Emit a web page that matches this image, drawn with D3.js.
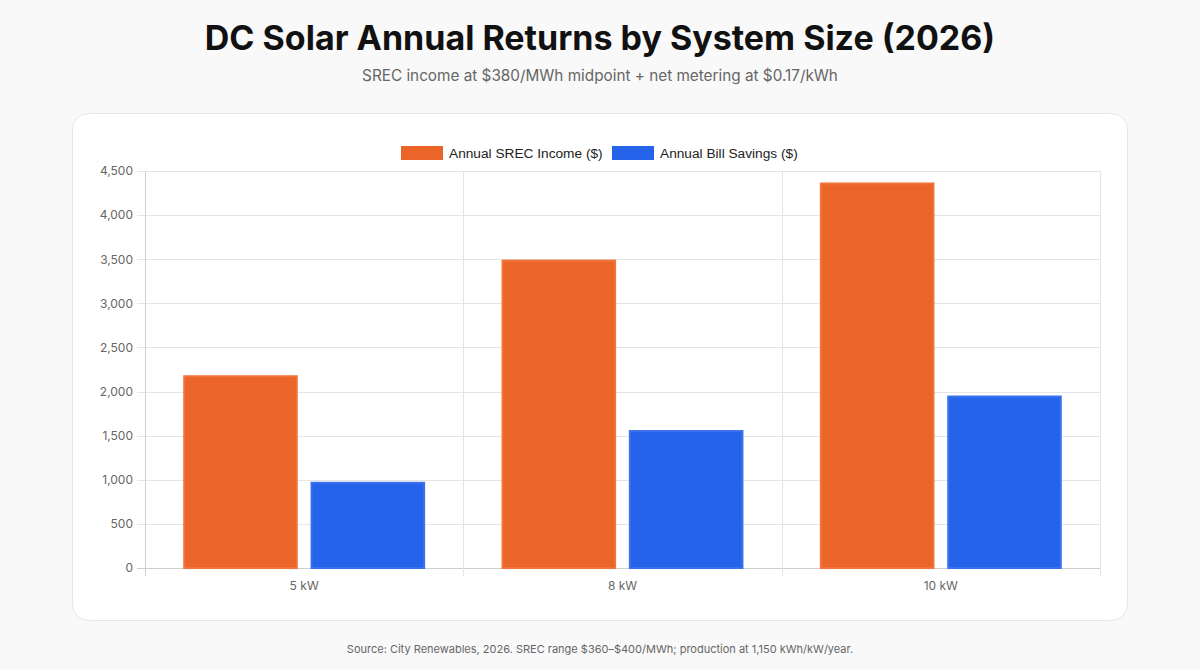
<!DOCTYPE html>
<html>
<head>
<meta charset="utf-8">
<script src="https://cdn.jsdelivr.net/npm/d3@7"></script>
<style>
  body { margin: 0; background: #f9f9f9; font-family: Inter, "Helvetica Neue", Arial, sans-serif; }
  svg { display: block; }
</style>
</head>
<body>
<script>
// Chart data
var categories = ["5 kW", "8 kW", "10 kW"];
var seriesNames = ["Annual SREC Income ($)", "Annual Bill Savings ($)"];
var srecIncome = [2185, 3496, 4370];
var billSavings = [977.5, 1564, 1955];
var yTicks = [0, 500, 1000, 1500, 2000, 2500, 3000, 3500, 4000, 4500];

var colors = ["#eb6428", "#2563eb"];
var strokes = ["#f0743c", "#3a72ee"];

var width = 1200, height = 670;
var svg = d3.select("body").append("svg")
  .attr("width", width)
  .attr("height", height);

// Title block
svg.append("text")
  .attr("x", width / 2).attr("y", 50)
  .attr("text-anchor", "middle")
  .style("font-size", "34px").style("font-weight", 700)
  .style("fill", "#111")
  .text("DC Solar Annual Returns by System Size (2026)");

svg.append("text")
  .attr("x", width / 2).attr("y", 81)
  .attr("text-anchor", "middle")
  .style("font-size", "15.3px").style("fill", "#666")
  .text("SREC income at $380/MWh midpoint + net metering at $0.17/kWh");

// Card
svg.append("rect")
  .attr("x", 72.5).attr("y", 113.5)
  .attr("width", 1055).attr("height", 507)
  .attr("rx", 16)
  .attr("fill", "#fff")
  .attr("stroke", "#e6e6e6");

// Plot area
var plotLeft = 145, plotRight = 1100, plotTop = 171, plotBottom = 568;

var x0 = d3.scaleBand().domain(categories).range([plotLeft, plotRight]).paddingInner(0).paddingOuter(0);
var x1 = d3.scaleBand().domain([0, 1]).range([0, x0.bandwidth() * 0.8]);
var y = d3.scaleLinear().domain([0, 4500]).range([plotBottom, plotTop]);

// Horizontal grid
svg.append("g").selectAll("line")
  .data(yTicks).enter()
  .append("line")
  .attr("x1", plotLeft - 8).attr("x2", plotRight)
  .attr("y1", function(d) { return Math.round(y(d)) + 0.5; })
  .attr("y2", function(d) { return Math.round(y(d)) + 0.5; })
  .attr("stroke", function(d) { return d === 0 ? "#cfcfcf" : "#e5e5e5"; });

// Vertical grid at category edges
var edges = categories.map(function(c) { return x0(c); }).concat([plotRight]);
svg.append("g").selectAll("line")
  .data(edges).enter()
  .append("line")
  .attr("x1", function(d) { return Math.round(d) + 0.5; })
  .attr("x2", function(d) { return Math.round(d) + 0.5; })
  .attr("y1", plotTop).attr("y2", plotBottom + 8)
  .attr("stroke", function(d, i) { return i === 0 ? "#cfcfcf" : "#e5e5e5"; });

// Y tick labels
var yAxis = d3.axisLeft(y).tickValues(yTicks).tickSize(0).tickPadding(12)
  .tickFormat(d3.format(","));
var gy = svg.append("g").attr("transform", "translate(" + plotLeft + ",0)").call(yAxis);
gy.select(".domain").remove();
gy.selectAll("text")
  .style("font-family", "Inter, Arial, sans-serif")
  .style("font-size", "12px").style("fill", "#666");

// X tick labels
var xAxis = d3.axisBottom(x0).tickSize(0).tickPadding(13);
var gx = svg.append("g").attr("transform", "translate(0," + plotBottom + ")").call(xAxis);
gx.select(".domain").remove();
gx.selectAll("text")
  .style("font-family", "Inter, Arial, sans-serif")
  .style("font-size", "12px").style("fill", "#666");

// Bars
var rows = categories.map(function(c, i) { return { cat: c, vals: [srecIncome[i], billSavings[i]] }; });
var groups = svg.append("g").selectAll("g")
  .data(rows).enter()
  .append("g")
  .attr("transform", function(d) { return "translate(" + (x0(d.cat) + x0.bandwidth() * 0.1) + ",0)"; });

var bw = x1.bandwidth() * 0.9;
groups.selectAll("rect")
  .data(function(d) { return d.vals.map(function(v, k) { return { k: k, v: v }; }); })
  .enter()
  .append("rect")
  .attr("x", function(d) { return x1(d.k) + (x1.bandwidth() - bw) / 2 + 1; })
  .attr("y", function(d) { return y(d.v) + 1; })
  .attr("width", bw - 2)
  .attr("height", function(d) { return plotBottom - y(d.v) - 1; })
  .attr("fill", function(d) { return colors[d.k]; })
  .attr("stroke", function(d) { return strokes[d.k]; })
  .attr("stroke-width", 2);

// Legend
var legend = svg.append("g");
var legX = [401, 612];
seriesNames.forEach(function(name, i) {
  legend.append("rect")
    .attr("x", legX[i]).attr("y", 146)
    .attr("width", 42).attr("height", 14)
    .attr("fill", colors[i]);
  legend.append("text")
    .attr("x", legX[i] + 48).attr("y", 158)
    .style("font-family", "Arial, 'Liberation Sans', sans-serif")
    .style("font-size", "13.7px").style("fill", "#222")
    .text(name);
});

// Source note
svg.append("text")
  .attr("x", width / 2).attr("y", 653)
  .attr("text-anchor", "middle")
  .style("font-size", "11px").style("fill", "#666")
  .text("Source: City Renewables, 2026. SREC range $360\u2013$400/MWh; production at 1,150 kWh/kW/year.");
</script>
</body>
</html>
